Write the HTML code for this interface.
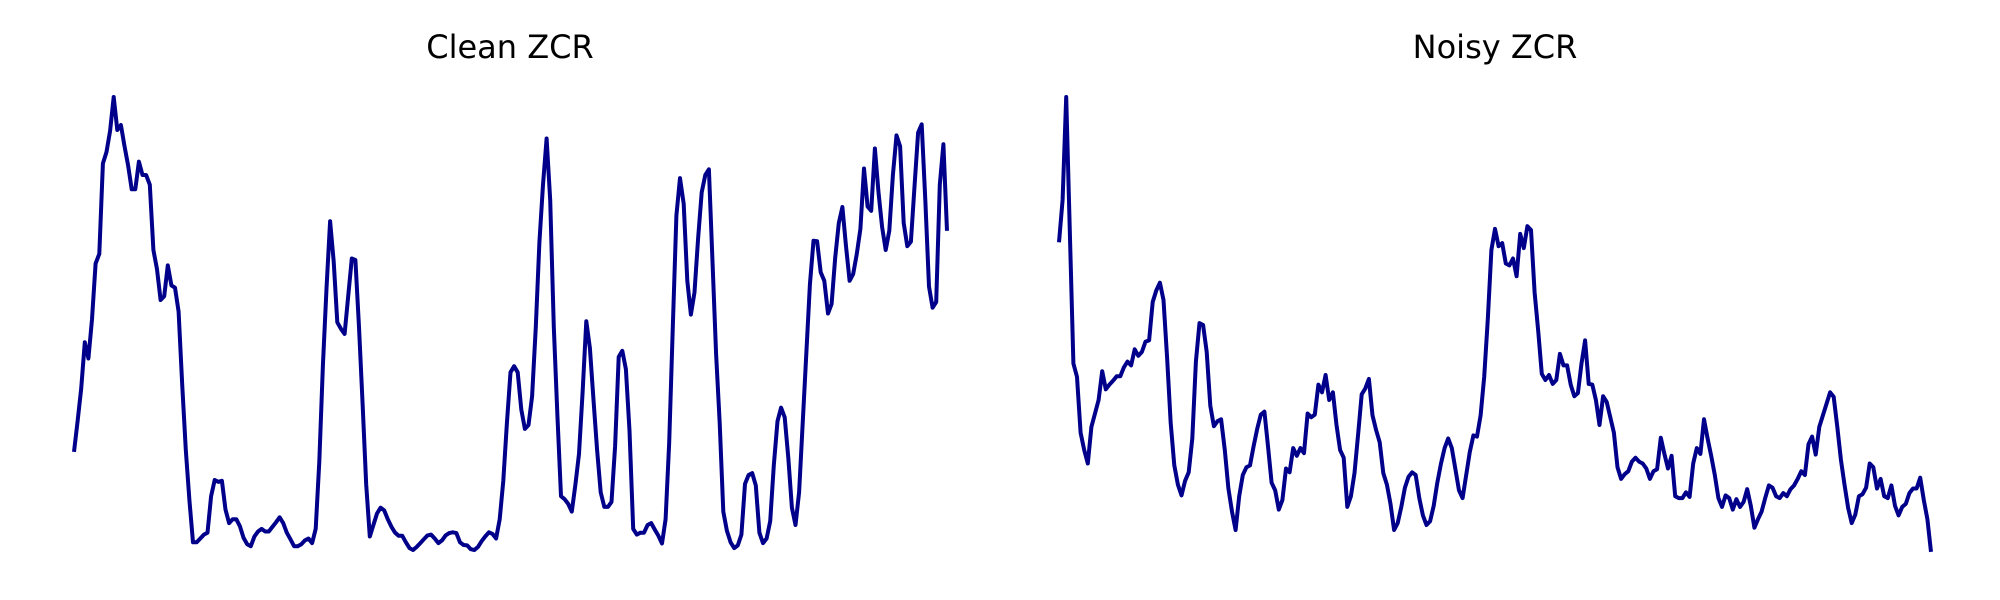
<!DOCTYPE html>
<html><head><meta charset="utf-8"><style>
html,body{margin:0;padding:0;background:#fff;}
svg{display:block;}
</style></head><body>
<svg id="chart" width="2000" height="600" viewBox="0 0 2000 600" xmlns="http://www.w3.org/2000/svg">
<text x="510" y="58" text-anchor="middle" font-family="DejaVu Sans, Liberation Sans, sans-serif" font-size="32">Clean ZCR</text>
<text x="1495" y="58" text-anchor="middle" font-family="DejaVu Sans, Liberation Sans, sans-serif" font-size="32">Noisy ZCR</text>
<g id="left"></g>
<g id="right"></g>
</svg>
<script>
const cleanValues = [275,355,440,560,518,620,765,790,1025,1055,1110,1198,1112,1125,1070,1020,958,958,1030,995,995,970,800,750,670,680,760,708,702,640,450,280,150,40,40,50,60,65,160,202,197,200,125,90,100,100,82,52,35,30,55,68,75,68,68,80,92,105,90,65,48,30,30,35,45,50,38,75,250,500,700,875,770,612,595,582,680,778,774,600,400,190,55,85,115,130,123,100,80,65,57,57,40,25,20,28,38,48,58,60,50,38,45,58,64,66,64,40,33,32,22,20,28,43,55,66,62,50,100,200,350,482,498,482,385,335,345,420,600,820,970,1090,930,600,370,160,152,140,120,190,270,430,615,545,410,280,170,132,132,145,290,522,538,490,330,75,60,65,65,85,90,73,57,37,100,300,600,890,987,920,720,632,690,830,950,995,1010,770,530,350,120,70,40,25,32,60,192,215,220,188,65,38,50,95,240,355,390,365,260,130,85,170,350,530,710,824,823,742,720,635,660,780,870,912,810,720,738,790,855,1012,913,902,1064,950,860,800,850,995,1098,1070,870,810,822,965,1105,1127,925,705,650,665,970,1075,850];
const noisyValues = [820,930,1198,850,505,470,325,280,245,340,375,410,485,438,450,460,472,472,495,510,500,542,525,535,562,565,665,695,715,670,520,350,240,190,162,200,222,310,510,610,605,535,395,342,355,360,280,180,120,72,160,215,235,240,290,335,372,380,290,195,175,125,150,232,222,285,265,285,272,375,365,372,450,430,475,410,430,345,280,260,132,160,220,320,425,440,465,370,332,300,220,190,140,72,90,132,182,210,222,215,155,110,85,95,135,195,245,285,310,285,230,175,155,215,275,318,315,370,470,620,800,855,810,818,765,760,778,732,842,805,862,852,690,590,478,462,475,452,462,530,500,500,450,420,428,505,565,452,450,410,345,420,405,365,325,235,205,217,225,250,260,250,245,232,205,225,230,312,270,232,265,160,155,155,170,158,245,285,270,360,310,265,215,155,132,162,155,125,152,132,145,178,135,78,100,120,155,188,182,160,155,168,160,178,188,205,225,215,295,315,268,340,370,400,430,418,340,255,190,130,90,112,160,165,182,245,235,180,205,160,155,188,135,110,132,140,168,180,180,208,150,100,15];
const yDomain = [0, 1200];

function yScale(v){ return 557.7 - (v - yDomain[0]) / (yDomain[1] - yDomain[0]) * 461.5; }
function makeX(x0, x1, n){ return i => x0 + (x1 - x0) * i / (n - 1); }

function drawSeries(groupId, values, x0, x1, name){
  const g = document.getElementById(groupId);
  const xs = makeX(x0, x1, values.length);
  const pts = values.map((v,i)=> xs(i).toFixed(1)+','+yScale(v).toFixed(1)).join(' ');
  const pl = document.createElementNS('http://www.w3.org/2000/svg','polyline');
  pl.setAttribute('points', pts);
  pl.setAttribute('fill','none');
  pl.setAttribute('stroke','#00008b');
  pl.setAttribute('stroke-width','4');
  pl.setAttribute('stroke-linejoin','round');
  
  
  g.appendChild(pl);
}
drawSeries('left', cleanValues, 74, 947, 'clean-zcr-line');
drawSeries('right', noisyValues, 1059, 1931, 'noisy-zcr-line');
</script>
</body></html>
